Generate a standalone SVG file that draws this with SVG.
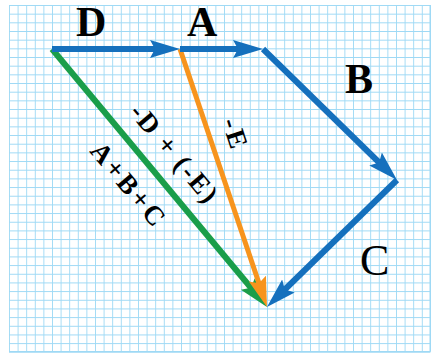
<svg xmlns="http://www.w3.org/2000/svg" width="431" height="356" viewBox="0 0 431 356">
<style>
  .lbl { font-family: "Liberation Serif", "Times New Roman", serif; fill: #000; }
  .big { font-size: 42px; font-weight: bold; }
  .mid { font-size: 27px; font-weight: bold; }
  .vec { fill: none; stroke-linecap: butt; }
  .blue { stroke: #1570bd; stroke-width: 6; }
  .green { stroke: #1a9e4a; stroke-width: 6; }
  .orange { stroke: #f7941d; stroke-width: 5; }
</style>
<defs>
  <pattern id="grid" x="9" y="5" width="8.6" height="8.67" patternUnits="userSpaceOnUse">
    <path d="M0,0 H8.6 M0,0 V8.67" stroke="#9ed9f5" stroke-width="1.8" fill="none"/>
  </pattern>
  <marker id="hb" viewBox="0 -10 30 20" refX="15" refY="0" markerWidth="30" markerHeight="20" markerUnits="userSpaceOnUse" orient="auto">
    <path d="M0,-9 L30,0 L0,9 L5,0 Z" fill="#1570bd"/>
  </marker>
  <marker id="hg" viewBox="0 -10 30 20" refX="15" refY="0" markerWidth="30" markerHeight="20" markerUnits="userSpaceOnUse" orient="auto">
    <path d="M0,-9 L30,0 L0,9 L5,0 Z" fill="#1a9e4a"/>
  </marker>
  <marker id="ho" viewBox="0 -10 30 20" refX="15" refY="0" markerWidth="30" markerHeight="20" markerUnits="userSpaceOnUse" orient="auto">
    <path d="M0,-9 L30,0 L0,9 L5,0 Z" fill="#f7941d"/>
  </marker>
</defs>
<rect x="0" y="0" width="431" height="356" fill="#ffffff"/>
<g id="grid-paper">
  <rect x="9" y="5" width="421.4" height="346.8" fill="url(#grid)"/>
  <path d="M430.4,5 V351.8 M9,351.8 H430.4" stroke="#9ed9f5" stroke-width="1.8" fill="none"/>
</g>
<g id="connectors">
  <line id="vec-sum" class="vec green" x1="52" y1="49" x2="257.4" y2="295.5" marker-end="url(#hg)"/>
  <line id="vec-negE" class="vec orange" x1="180" y1="49" x2="262.2" y2="292.8" marker-end="url(#ho)"/>
  <line id="vec-D" class="vec blue" x1="52" y1="49" x2="165" y2="49" marker-end="url(#hb)"/>
  <line id="vec-A" class="vec blue" x1="180" y1="49" x2="248" y2="49" marker-end="url(#hb)"/>
  <line id="vec-B" class="vec blue" x1="263" y1="49" x2="386.3" y2="169.5" marker-end="url(#hb)"/>
  <line id="vec-C" class="vec blue" x1="397" y1="180" x2="277.7" y2="296.5" marker-end="url(#hb)"/>
</g>
<g id="label-D"><text class="lbl big" x="76" y="36">D</text></g>
<g id="label-A"><text class="lbl big" x="187" y="36">A</text></g>
<g id="label-B"><text class="lbl big" x="345" y="93">B</text></g>
<g id="label-C"><text class="lbl" style="font-size:44px" x="360" y="275">C</text></g>
<g id="label-negD-negE"><text class="lbl mid" transform="translate(174,153) rotate(50)" x="0" y="9" text-anchor="middle" textLength="120" lengthAdjust="spacing">-D + (-E)</text></g>
<g id="label-ABC"><text class="lbl mid" transform="translate(128,184) rotate(50)" x="0" y="9" text-anchor="middle" textLength="100" lengthAdjust="spacing">A+B+C</text></g>
<g id="label-negE"><text class="lbl mid" transform="translate(235,133) rotate(72)" x="0" y="9" text-anchor="middle" textLength="30" lengthAdjust="spacing">-E</text></g>
</svg>
